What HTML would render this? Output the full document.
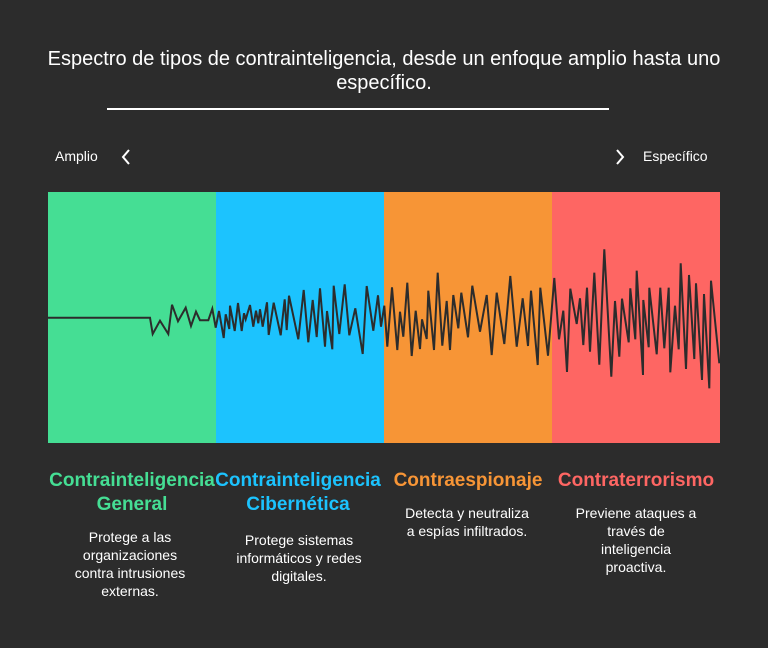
<!DOCTYPE html>
<html><head><meta charset="utf-8"><style>
body{margin:0;width:768px;height:648px;background:#2c2c2c;font-family:"Liberation Sans",sans-serif;color:#fff;position:relative;overflow:hidden}
.t{position:absolute;left:0;width:768px;top:47px;text-align:center;font-size:20px;line-height:24px}
.a{position:absolute;font-size:14px;top:148px}
.h{position:absolute;text-align:center;font-weight:bold;font-size:19px;line-height:24px;top:469px;white-space:nowrap}
.d{position:absolute;text-align:center;font-size:14px;line-height:18px}
</style></head><body>
<div class="t">Espectro de tipos de contrainteligencia, desde un enfoque amplio hasta uno<br>específico.</div>
<div style="position:absolute;left:107px;top:108px;width:502px;height:2px;background:#fff"></div>
<div class="a" style="left:55px">Amplio</div>
<div class="a" style="left:643px">Específico</div>
<svg style="position:absolute;left:0;top:0" width="768" height="648">
<polyline points="129,150 123,157 129,164" fill="none" stroke="#fff" stroke-width="2"/>
<polyline points="617,150 623,157 617,164" fill="none" stroke="#fff" stroke-width="2"/>
<rect x="48" y="192" width="168" height="251" fill="#45de94"/>
<rect x="216" y="192" width="168" height="251" fill="#1cc3fe"/>
<rect x="384" y="192" width="168" height="251" fill="#f79536"/>
<rect x="552" y="192" width="168" height="251" fill="#fe6663"/>
<polyline fill="none" stroke="#2c2c2c" stroke-width="2" stroke-linejoin="miter" points="48,317.7 150,317.7 152.7,334 160,320.7 168.3,334 172,304.7 178,321.3 185.7,307.7 191,326 196,311.7 200,320.3 208.3,320.3 212.3,308.7 215.7,327.7 219,311 223.7,338 225.7,314.3 229.3,329 230,305.7 234.7,331 238,303 241.7,331 244,313.3 245.7,319.3 250,305 253.3,326.7 256,310.7 258.3,323.3 260,309.3 262.7,326.7 267,302.3 268.7,335 273.7,302.7 280.7,335.3 284.7,299.3 286.7,330 289,295.7 298.3,339.3 303.7,290 308.3,342.3 312.7,300 316.7,337 320,288.3 325,346.7 327,311 332.3,349.3 333.7,285.7 339.3,334 344.7,284.3 349.3,335.3 355.3,308.3 362.7,354 366.7,286 373.3,330.7 378,295.3 381,326.7 384.3,305.7 387.3,346.7 392,287.3 397.3,350 400,311.7 403.3,336.7 407.3,282.7 411.7,356 415.7,310.7 420,349 422,319.3 426.7,339 428.3,290.7 434,350 437.7,272.7 442.3,345.7 446.7,301 450,350 453.3,295 458.3,328.3 461.3,292.7 468,337.3 472.3,285.7 480,331.7 486.7,295 491.7,355 496.7,292.7 504.3,344 510.3,276 516.7,346.7 522.7,298.3 528,346 531,290.7 537.7,365 540.3,287.7 548,355.7 554.3,278 559,339.3 563.3,310.7 567,372 570.3,288.7 576.7,324 580,298.3 583.3,345 587,287.7 590,351.7 594.3,272.7 599.3,364.7 604.3,249.3 611.3,376.7 615,301 619.3,356.7 622,298.7 628.7,342.3 630.3,288.3 635.3,339.3 636.7,270.7 643,375 643.3,300 648.7,347.3 649.3,287.7 656.7,354.3 660.3,287.7 664.3,348.3 668.7,287.7 670.3,372.3 675,305.7 678.7,349.3 680.7,263.3 686,369 689,275 694.3,359 696,283.3 702,380 704,294 709.3,388.3 711,280.7 719.3,363.3"/>
</svg>
<div class="h" style="left:32px;width:200px;color:#45de94">Contrainteligencia<br>General</div>
<div class="h" style="left:198px;width:200px;color:#1cc3fe">Contrainteligencia<br>Cibernética</div>
<div class="h" style="left:368px;width:200px;color:#f79536">Contraespionaje</div>
<div class="h" style="left:536px;width:200px;color:#fe6663">Contraterrorismo</div>
<div class="d" style="left:65px;width:130px;top:528px">Protege a las organizaciones contra intrusiones externas.</div>
<div class="d" style="left:228px;width:142px;top:531px">Protege sistemas informáticos y redes digitales.</div>
<div class="d" style="left:401px;width:132px;top:504px">Detecta y neutraliza a espías infiltrados.</div>
<div class="d" style="left:574px;width:124px;top:504px">Previene ataques a través de inteligencia proactiva.</div>
</body></html>
